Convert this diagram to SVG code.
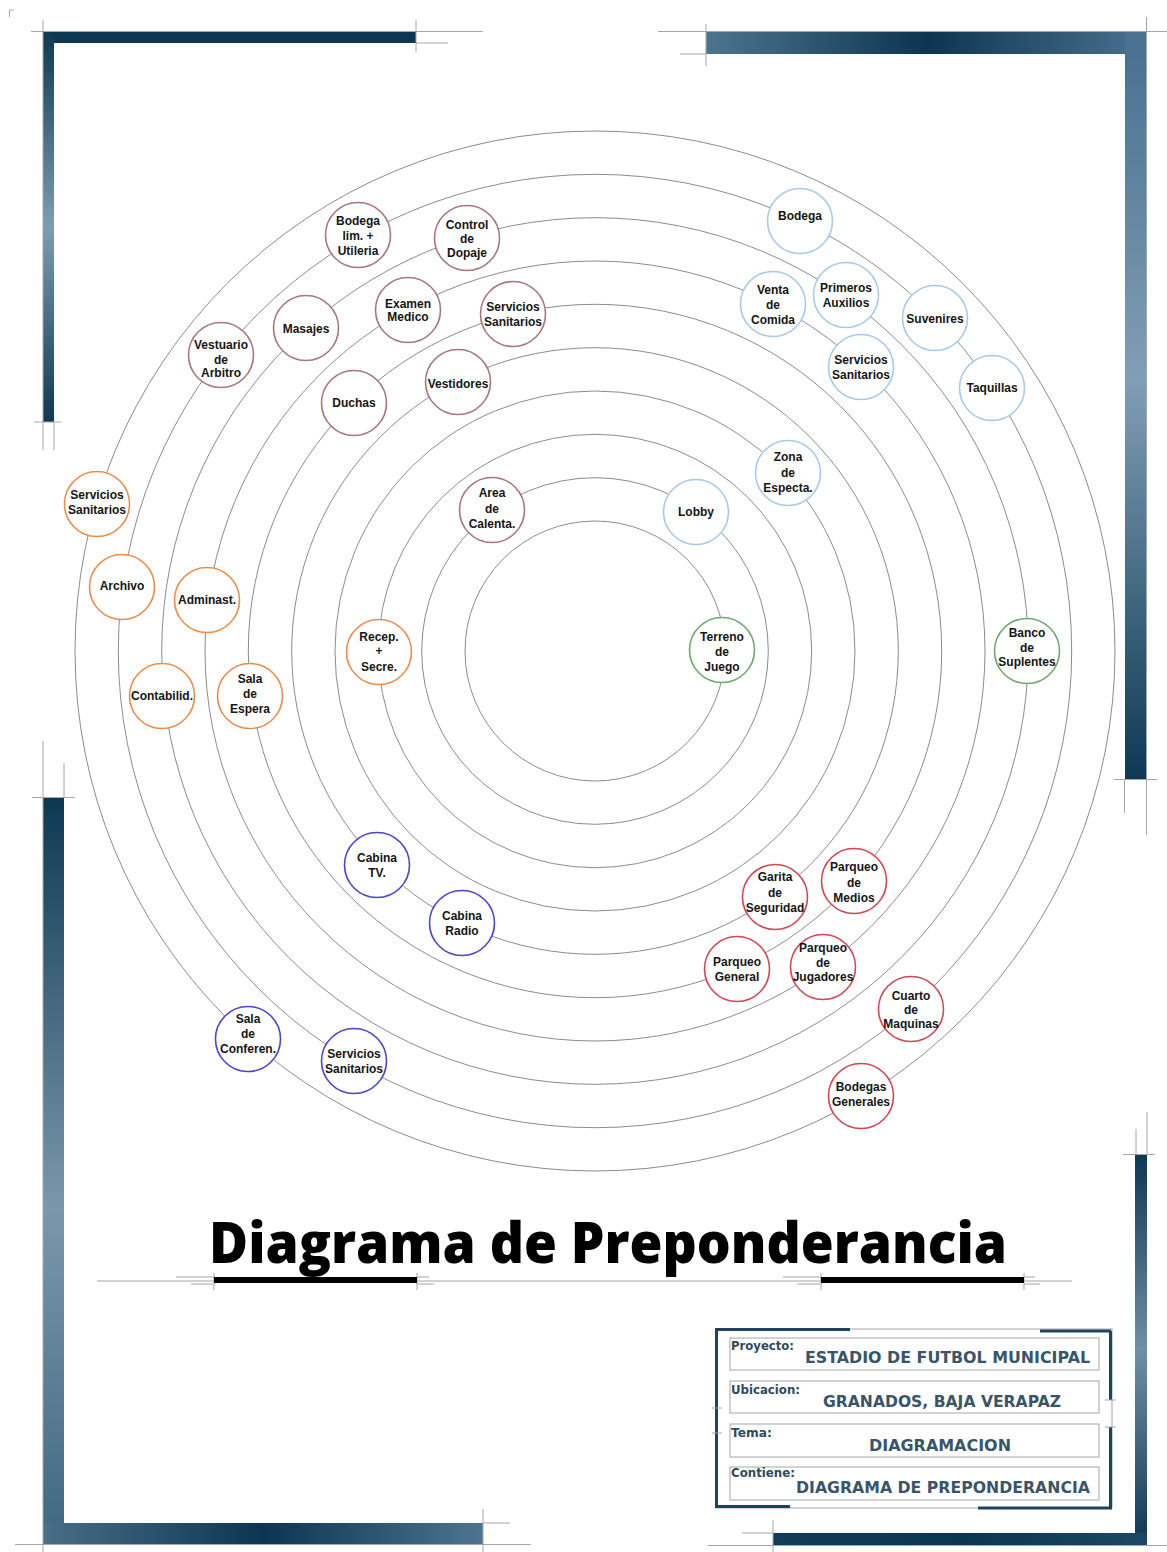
<svg xmlns="http://www.w3.org/2000/svg" width="1167" height="1552" viewBox="0 0 1167 1552">
<defs>
<style>
.ring{fill:none;stroke:#8c8c8c;stroke-width:1}
.node circle{fill:#ffffff;stroke-width:1.6}
.node text{font-family:"Liberation Sans","Arial",sans-serif;font-weight:bold;font-size:12px;fill:#151515;text-anchor:middle}
.maroon circle{stroke:#a8767e}
.lblue circle{stroke:#a9c9ea}
.green circle{stroke:#6fa86f}
.orange circle{stroke:#ea8d4f}
.dblue circle{stroke:#4a46c8}
.red circle{stroke:#d24655}
.thin{stroke:#a6a6a6;stroke-width:1;fill:none}
.lab{font-family:"DejaVu Sans","Verdana",sans-serif;font-weight:bold;font-size:11.5px;fill:#2e4a5c}
.val{font-family:"DejaVu Sans","Verdana",sans-serif;font-weight:bold;font-size:16px;fill:#3b5568}
</style>
<linearGradient id="gTLv" x1="0" y1="31" x2="0" y2="422" gradientUnits="userSpaceOnUse">
<stop offset="0" stop-color="#0d3853"/><stop offset="0.5" stop-color="#7d9db1"/><stop offset="1" stop-color="#0d3853"/>
</linearGradient>
<linearGradient id="gTRh" x1="706" y1="0" x2="1147" y2="0" gradientUnits="userSpaceOnUse">
<stop offset="0" stop-color="#4d7590"/><stop offset="0.5" stop-color="#0b3550"/><stop offset="1" stop-color="#4a7290"/>
</linearGradient>
<linearGradient id="gTRv" x1="0" y1="54" x2="0" y2="780" gradientUnits="userSpaceOnUse">
<stop offset="0" stop-color="#4a7290"/><stop offset="0.45" stop-color="#7f9fb5"/><stop offset="1" stop-color="#0d3853"/>
</linearGradient>
<linearGradient id="gBLv" x1="0" y1="797" x2="0" y2="1544" gradientUnits="userSpaceOnUse">
<stop offset="0" stop-color="#0d3853"/><stop offset="0.55" stop-color="#7a98ab"/><stop offset="1" stop-color="#3f6782"/>
</linearGradient>
<linearGradient id="gBLh" x1="43" y1="0" x2="483" y2="0" gradientUnits="userSpaceOnUse">
<stop offset="0" stop-color="#4a6f88"/><stop offset="0.5" stop-color="#0b3550"/><stop offset="1" stop-color="#4d7590"/>
</linearGradient>
<linearGradient id="gBRv" x1="0" y1="1154" x2="0" y2="1545" gradientUnits="userSpaceOnUse">
<stop offset="0" stop-color="#0d3853"/><stop offset="0.5" stop-color="#6f90a6"/><stop offset="1" stop-color="#0d3853"/>
</linearGradient>
<linearGradient id="gBRh" x1="773" y1="0" x2="1147" y2="0" gradientUnits="userSpaceOnUse">
<stop offset="0" stop-color="#123d58"/><stop offset="0.5" stop-color="#0b3550"/><stop offset="1" stop-color="#1c4863"/>
</linearGradient>
</defs>
<rect width="1167" height="1552" fill="#ffffff"/>

<g id="frame">
<path class="thin" d="M9.5,17 V10 H14"/>
<rect x="43" y="31" width="373" height="12" fill="#0d3853"/>
<rect x="43" y="31" width="11" height="391" fill="url(#gTLv)"/>
<path class="thin" d="M31,31.5 H483 M416,43 H448 M416,20 V52 M43,20 V450 M54,422 V450 M34,422 H61"/>
<rect x="706" y="31" width="441" height="23" fill="url(#gTRh)"/>
<rect x="1125" y="31" width="22" height="749" fill="url(#gTRv)"/>
<path class="thin" d="M658,31.5 H1167 M680,54 H706 M706,24 V66 M1146.5,17 V835 M1124.5,780 V813 M1114,779.5 H1157"/>
<rect x="43" y="797" width="21" height="747" fill="url(#gBLv)"/>
<rect x="43" y="1523" width="440" height="21" fill="url(#gBLh)"/>
<path class="thin" d="M15,1544.5 H531 M483,1523 H510 M483,1509 V1552 M43,741 V1552 M64,763 V797 M32,797.5 H75"/>
<rect x="1135" y="1154" width="12" height="391" fill="url(#gBRv)"/>
<rect x="773" y="1533" width="374" height="12" fill="url(#gBRh)"/>
<path class="thin" d="M708,1545.5 H1167 M742,1533 H773 M773,1520 V1552 M1123,1154.5 H1155 M1136,1129 V1154 M1147,1112 V1154"/>
</g>

<g id="connectors">
<circle class="ring" cx="595" cy="651" r="130"/>
<circle class="ring" cx="595" cy="651" r="173.3"/>
<circle class="ring" cx="595" cy="651" r="216.7"/>
<circle class="ring" cx="595" cy="651" r="260"/>
<circle class="ring" cx="595" cy="651" r="303.3"/>
<circle class="ring" cx="595" cy="651" r="346.7"/>
<circle class="ring" cx="595" cy="651" r="390"/>
<circle class="ring" cx="595" cy="651" r="433.3"/>
<circle class="ring" cx="595" cy="651" r="476.7"/>
<circle class="ring" cx="595" cy="651" r="520"/>
</g>

<g id="nodes">
<g id="bodega-lim" class="node maroon"><circle cx="358" cy="235" r="32.5"/><text><tspan x="358" y="225">Bodega</tspan><tspan x="358" y="240">lim. +</tspan><tspan x="358" y="255">Utileria</tspan></text></g>
<g id="control-dopaje" class="node maroon"><circle cx="467" cy="238" r="32.5"/><text><tspan x="467" y="229">Control</tspan><tspan x="467" y="243">de</tspan><tspan x="467" y="257">Dopaje</tspan></text></g>
<g id="masajes" class="node maroon"><circle cx="306" cy="328" r="32.5"/><text><tspan x="306" y="333">Masajes</tspan></text></g>
<g id="examen-medico" class="node maroon"><circle cx="408" cy="310" r="32.5"/><text><tspan x="408" y="308">Examen</tspan><tspan x="408" y="321">Medico</tspan></text></g>
<g id="servicios-sanitarios-1" class="node maroon"><circle cx="513" cy="314" r="32.5"/><text><tspan x="513" y="311">Servicios</tspan><tspan x="513" y="326">Sanitarios</tspan></text></g>
<g id="vestuario-arbitro" class="node maroon"><circle cx="221" cy="355" r="32.5"/><text><tspan x="221" y="349">Vestuario</tspan><tspan x="221" y="364">de</tspan><tspan x="221" y="377">Arbitro</tspan></text></g>
<g id="duchas" class="node maroon"><circle cx="354" cy="403" r="32.5"/><text><tspan x="354" y="407">Duchas</tspan></text></g>
<g id="vestidores" class="node maroon"><circle cx="458" cy="382" r="32.5"/><text><tspan x="458" y="388">Vestidores</tspan></text></g>
<g id="area-calenta" class="node maroon"><circle cx="492" cy="510" r="32.5"/><text><tspan x="492" y="497">Area</tspan><tspan x="492" y="513">de</tspan><tspan x="492" y="528">Calenta.</tspan></text></g>
<g id="bodega" class="node lblue"><circle cx="800" cy="221" r="32.5"/><text><tspan x="800" y="220">Bodega</tspan></text></g>
<g id="venta-comida" class="node lblue"><circle cx="773" cy="304" r="32.5"/><text><tspan x="773" y="294">Venta</tspan><tspan x="773" y="309">de</tspan><tspan x="773" y="324">Comida</tspan></text></g>
<g id="primeros-auxilios" class="node lblue"><circle cx="846" cy="295" r="32.5"/><text><tspan x="846" y="292">Primeros</tspan><tspan x="846" y="307">Auxilios</tspan></text></g>
<g id="suvenires" class="node lblue"><circle cx="935" cy="318" r="32.5"/><text><tspan x="935" y="323">Suvenires</tspan></text></g>
<g id="servicios-sanitarios-2" class="node lblue"><circle cx="861" cy="367" r="32.5"/><text><tspan x="861" y="364">Servicios</tspan><tspan x="861" y="379">Sanitarios</tspan></text></g>
<g id="taquillas" class="node lblue"><circle cx="992" cy="388" r="32.5"/><text><tspan x="992" y="392">Taquillas</tspan></text></g>
<g id="zona-especta" class="node lblue"><circle cx="788" cy="473" r="32.5"/><text><tspan x="788" y="461">Zona</tspan><tspan x="788" y="477">de</tspan><tspan x="788" y="492">Especta.</tspan></text></g>
<g id="lobby" class="node lblue"><circle cx="696" cy="512" r="32.5"/><text><tspan x="696" y="516">Lobby</tspan></text></g>
<g id="terreno-juego" class="node green"><circle cx="722" cy="650" r="32.5"/><text><tspan x="722" y="641">Terreno</tspan><tspan x="722" y="656">de</tspan><tspan x="722" y="671">Juego</tspan></text></g>
<g id="banco-suplentes" class="node green"><circle cx="1027" cy="651" r="32.5"/><text><tspan x="1027" y="637">Banco</tspan><tspan x="1027" y="652">de</tspan><tspan x="1027" y="666">Suplentes</tspan></text></g>
<g id="servicios-sanitarios-3" class="node orange"><circle cx="97" cy="504" r="32.5"/><text><tspan x="97" y="499">Servicios</tspan><tspan x="97" y="514">Sanitarios</tspan></text></g>
<g id="archivo" class="node orange"><circle cx="122" cy="587" r="32.5"/><text><tspan x="122" y="590">Archivo</tspan></text></g>
<g id="adminast" class="node orange"><circle cx="207" cy="600" r="32.5"/><text><tspan x="207" y="604">Adminast.</tspan></text></g>
<g id="contabilid" class="node orange"><circle cx="162" cy="696" r="32.5"/><text><tspan x="162" y="700">Contabilid.</tspan></text></g>
<g id="sala-espera" class="node orange"><circle cx="250" cy="696" r="32.5"/><text><tspan x="250" y="683">Sala</tspan><tspan x="250" y="698">de</tspan><tspan x="250" y="713">Espera</tspan></text></g>
<g id="recep-secre" class="node orange"><circle cx="379" cy="652" r="32.5"/><text><tspan x="379" y="641">Recep.</tspan><tspan x="379" y="655">+</tspan><tspan x="379" y="671">Secre.</tspan></text></g>
<g id="cabina-tv" class="node dblue"><circle cx="377" cy="865" r="32.5"/><text><tspan x="377" y="862">Cabina</tspan><tspan x="377" y="877">TV.</tspan></text></g>
<g id="cabina-radio" class="node dblue"><circle cx="462" cy="923" r="32.5"/><text><tspan x="462" y="920">Cabina</tspan><tspan x="462" y="935">Radio</tspan></text></g>
<g id="sala-conferen" class="node dblue"><circle cx="248" cy="1039" r="32.5"/><text><tspan x="248" y="1023">Sala</tspan><tspan x="248" y="1038">de</tspan><tspan x="248" y="1053">Conferen.</tspan></text></g>
<g id="servicios-sanitarios-4" class="node dblue"><circle cx="354" cy="1061" r="32.5"/><text><tspan x="354" y="1058">Servicios</tspan><tspan x="354" y="1073">Sanitarios</tspan></text></g>
<g id="garita-seguridad" class="node red"><circle cx="775" cy="897" r="32.5"/><text><tspan x="775" y="881">Garita</tspan><tspan x="775" y="897">de</tspan><tspan x="775" y="912">Seguridad</tspan></text></g>
<g id="parqueo-medios" class="node red"><circle cx="854" cy="881" r="32.5"/><text><tspan x="854" y="871">Parqueo</tspan><tspan x="854" y="887">de</tspan><tspan x="854" y="902">Medios</tspan></text></g>
<g id="parqueo-general" class="node red"><circle cx="737" cy="969" r="32.5"/><text><tspan x="737" y="966">Parqueo</tspan><tspan x="737" y="981">General</tspan></text></g>
<g id="parqueo-jugadores" class="node red"><circle cx="823" cy="967" r="32.5"/><text><tspan x="823" y="952">Parqueo</tspan><tspan x="823" y="967">de</tspan><tspan x="823" y="981">Jugadores</tspan></text></g>
<g id="cuarto-maquinas" class="node red"><circle cx="911" cy="1009" r="32.5"/><text><tspan x="911" y="1000">Cuarto</tspan><tspan x="911" y="1014">de</tspan><tspan x="911" y="1028">Maquinas</tspan></text></g>
<g id="bodegas-generales" class="node red"><circle cx="861" cy="1096" r="32.5"/><text><tspan x="861" y="1091">Bodegas</tspan><tspan x="861" y="1106">Generales</tspan></text></g>
</g>

<g id="title">
<text x="209" y="1263" font-family="'Open Sans','DejaVu Sans',sans-serif" font-weight="800" font-size="57" fill="#000000" textLength="798" lengthAdjust="spacingAndGlyphs">Diagrama de Preponderancia</text>
<path class="thin" d="M97,1281 H1072 M176,1277 H214 M191,1284 H214 M417,1277 H429 M417,1284 H434 M214,1273 V1290 M417,1273 V1290 M783,1277 H821 M797,1284 H821 M1024,1277 H1035 M1024,1284 H1040 M821,1273 V1290 M1024,1273 V1290"/>
<rect x="214" y="1277" width="203" height="6" fill="#000000"/>
<rect x="821" y="1277" width="203" height="6" fill="#000000"/>
</g>

<g id="titleblock">
<rect class="thin" x="716" y="1329" width="396" height="179"/>
<path d="M715,1329.5 H850 M716.5,1329 V1507 M715,1506.5 H790 M1040,1331 H1111 M1110.5,1331 V1400 M1110.5,1427 V1508 M978,1508 H1112" stroke="#1d4560" stroke-width="3" fill="none"/>
<path class="thin" d="M712,1408 H722 M712,1433 H722 M1105,1400 H1116 M1105,1427 H1116"/>
<rect class="thin" x="730" y="1338" width="369" height="32"/>
<rect class="thin" x="730" y="1381" width="369" height="32"/>
<rect class="thin" x="730" y="1424" width="369" height="33"/>
<rect class="thin" x="730" y="1467" width="369" height="33"/>
<text class="lab" x="731" y="1350" textLength="63" lengthAdjust="spacingAndGlyphs">Proyecto:</text>
<text class="val" x="805" y="1363" textLength="285" lengthAdjust="spacingAndGlyphs">ESTADIO DE FUTBOL MUNICIPAL</text>
<text class="lab" x="731" y="1394" textLength="69" lengthAdjust="spacingAndGlyphs">Ubicacion:</text>
<text class="val" x="823" y="1407" textLength="238" lengthAdjust="spacingAndGlyphs">GRANADOS, BAJA VERAPAZ</text>
<text class="lab" x="731" y="1437" textLength="41" lengthAdjust="spacingAndGlyphs">Tema:</text>
<text class="val" x="869" y="1451" textLength="142" lengthAdjust="spacingAndGlyphs">DIAGRAMACION</text>
<text class="lab" x="731" y="1477" textLength="64" lengthAdjust="spacingAndGlyphs">Contiene:</text>
<text class="val" x="796" y="1493" textLength="294" lengthAdjust="spacingAndGlyphs">DIAGRAMA DE PREPONDERANCIA</text>
</g>
</svg>
